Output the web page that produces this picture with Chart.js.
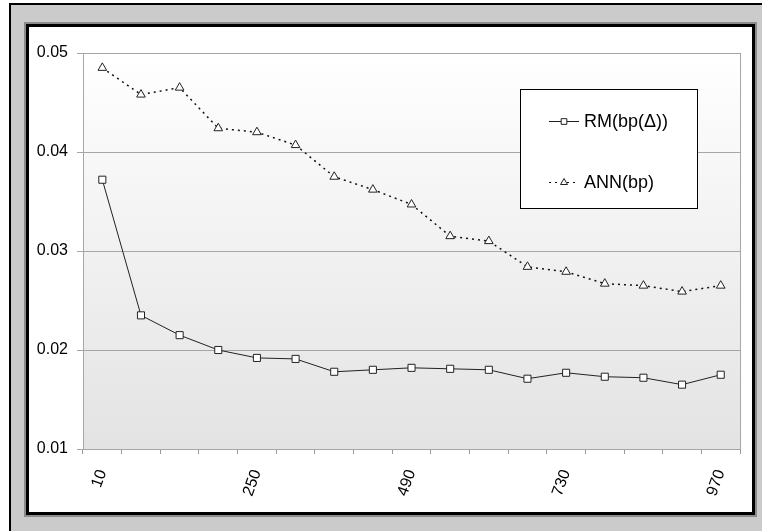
<!DOCTYPE html>
<html>
<head>
<meta charset="utf-8">
<title>RM vs ANN</title>
<script src="https://cdn.jsdelivr.net/npm/chart.js@4.4.0/dist/chart.umd.min.js"></script>
<style>
    html, body { margin: 0; padding: 0; background: #fff; overflow: hidden; }
    #frame {
        position: absolute; left: 9px; top: 3px; width: 800px; height: 600px;
        background: #cbcbcb; border-left: 2px solid #000; border-top: 2px solid #000;
    }
    #panel {
        position: absolute; left: 26px; top: 24px; width: 723px; height: 485px;
        border: 3px solid #000; box-shadow: 0 0 0 2px #8c8c8c; background: #fff;
    }
    canvas { display: block; }
</style>
</head>
<body>
<div id="frame"></div>
<div id="panel"><canvas id="chart" width="723" height="485"></canvas></div>
<script>
// ========================================
// Data
// ========================================
const categories = ['10', '70', '130', '190', '250', '310', '370', '430', '490',
    '550', '610', '670', '730', '790', '850', '910', '970'];
const shownTicks = ['10', '250', '490', '730', '970'];
const yTicks = [0.01, 0.02, 0.03, 0.04, 0.05];

const rmValues = [0.0372, 0.0235, 0.0215, 0.0200, 0.0192, 0.0191, 0.0178, 0.0180, 0.0182,
    0.0181, 0.0180, 0.0171, 0.0177, 0.0173, 0.0172, 0.0165, 0.0175];
const annValues = [0.0485, 0.0458, 0.0465, 0.0424, 0.0420, 0.0407, 0.0375, 0.0362, 0.0347,
    0.0315, 0.0310, 0.0284, 0.0279, 0.0267, 0.0265, 0.0259, 0.0265];

const FONT = '"Liberation Sans", Arial, sans-serif';

// ========================================
// Plot background + frame
// ========================================
const plotBackground = {
    id: 'plotBackground',
    beforeDraw(chart) {
        const { ctx, chartArea: a } = chart;
        const g = ctx.createLinearGradient(0, a.top, 0, a.bottom);
        g.addColorStop(0, '#ffffff');
        g.addColorStop(1, '#e3e3e3');
        ctx.save();
        ctx.fillStyle = g;
        ctx.fillRect(a.left, a.top, a.right - a.left, a.bottom - a.top);
        ctx.restore();
    },
    beforeDatasetsDraw(chart) {
        const { ctx, chartArea: a } = chart;
        ctx.save();
        ctx.strokeStyle = '#a6a6a6';
        ctx.lineWidth = 1;
        ctx.strokeRect(a.left + 0.5, a.top + 0.5, a.right - a.left, a.bottom - a.top);
        ctx.restore();
    }
};

// ========================================
// Legend box inside the plot
// ========================================
const boxLegend = {
    id: 'boxLegend',
    afterDraw(chart) {
        const { ctx, chartArea: a } = chart;
        const x = a.left + 437, y = a.top + 36, w = 177, h = 119;
        ctx.save();
        ctx.fillStyle = '#fff';
        ctx.fillRect(x, y, w, h);
        ctx.strokeStyle = '#000';
        ctx.lineWidth = 1;
        ctx.strokeRect(x + 0.5, y + 0.5, w, h);

        const rows = [y + 32, y + 93];
        chart.data.datasets.forEach((ds, i) => {
            const ly = rows[i];
            ctx.strokeStyle = ds.borderColor;
            ctx.lineWidth = 1;
            ctx.setLineDash(ds.borderDash || []);
            ctx.beginPath();
            ctx.moveTo(x + 29, ly + 0.5);
            ctx.lineTo(x + 59, ly + 0.5);
            ctx.stroke();
            ctx.setLineDash([]);
            ctx.fillStyle = ds.pointBackgroundColor;
            ctx.strokeStyle = ds.pointBorderColor;
            Chart.helpers.drawPoint(ctx, {
                pointStyle: ds.pointStyle, radius: ds.legendRadius, rotation: 0, borderWidth: 1
            }, x + 44, ly + 0.5);
            ctx.fillStyle = '#000';
            ctx.font = '18px ' + FONT;
            ctx.textBaseline = 'middle';
            ctx.fillText(ds.label, x + 64, ly + 1);
        });
        ctx.restore();
    }
};

// ========================================
// Chart
// ========================================
new Chart(document.getElementById('chart'), {
    type: 'line',
    data: {
        labels: categories,
        datasets: [{
            label: 'RM(bp(\u0394))',
            data: rmValues,
            borderColor: '#222',
            borderWidth: 1,
            pointStyle: 'rect',
            pointRadius: 5,
            legendRadius: 4,
            pointBackgroundColor: '#fff',
            pointBorderColor: '#222',
            pointBorderWidth: 1,
            tension: 0
        }, {
            label: 'ANN(bp)',
            data: annValues,
            borderColor: '#111',
            borderWidth: 1.5,
            borderDash: [2, 4],
            pointStyle: 'triangle',
            pointRadius: 5,
            legendRadius: 4,
            pointBackgroundColor: '#fff',
            pointBorderColor: '#222',
            pointBorderWidth: 1,
            tension: 0
        }]
    },
    options: {
        responsive: false,
        animation: false,
        layout: { padding: { top: 26, right: 8, left: 0, bottom: 0 } },
        plugins: { legend: { display: false }, tooltip: { enabled: false } },
        scales: {
            x: {
                offset: true,
                grid: { offset: true, drawOnChartArea: false, drawTicks: true, tickLength: 5, color: '#999' },
                border: { color: '#a6a6a6' },
                ticks: {
                    autoSkip: false,
                    maxRotation: 70,
                    minRotation: 70,
                    padding: 13,
                    color: '#000',
                    font: { family: FONT, size: 16 },
                    callback: (v, i) => shownTicks.includes(categories[i]) ? categories[i] : ''
                },
                afterFit: s => { s.height = 63; }
            },
            y: {
                min: yTicks[0],
                max: yTicks[yTicks.length - 1],
                afterBuildTicks: s => { s.ticks = yTicks.map(v => ({ value: v })); },
                grid: { color: '#a6a6a6', tickLength: 6 },
                border: { color: '#a6a6a6' },
                ticks: {
                    padding: 9,
                    color: '#000',
                    font: { family: FONT, size: 16 },
                    callback: v => v.toFixed(2)
                },
                afterFit: s => { s.width = 54; }
            }
        }
    },
    plugins: [plotBackground, boxLegend]
});
</script>
</body>
</html>
